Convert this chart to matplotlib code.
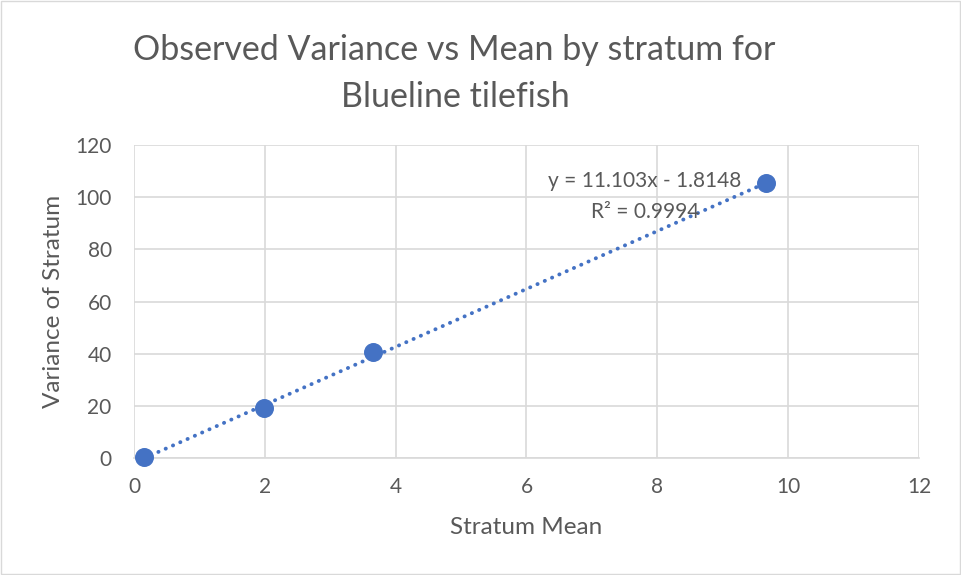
import matplotlib.pyplot as plt
import numpy as np

plt.rcParams['font.family'] = ['Lato', 'DejaVu Sans']

# stratum mean vs observed variance
stratum_mean = [0.15, 1.99, 3.66, 9.66]
stratum_var = [0.3, 19.3, 40.5, 105.3]
slope = 11.103
intercept = -1.8148
r2 = 0.9994

grey = '#595959'
blue = '#4472C4'

fig = plt.figure(figsize=(9.61, 5.75), dpi=100)
ax = fig.add_axes([0.1394, 0.2035, 0.8169, 0.5443])

# trendline over the data range
xs = np.array([min(stratum_mean), max(stratum_mean)])
ax.plot(xs, slope * xs + intercept, color=blue, lw=2.8, ls=(0, (0.05, 2.0)),
        dash_capstyle='round', zorder=2)
ax.scatter(stratum_mean, stratum_var, s=160, color=blue, zorder=3, clip_on=False)

ax.set_xlim(0, 12)
ax.set_ylim(0, 120)
ax.set_xticks(np.arange(0, 13, 2))
ax.set_yticks(np.arange(0, 121, 20))
ax.grid(True, color='#d9d9d9', lw=1.2)
ax.set_axisbelow(True)
for s in ['top', 'right', 'left']:
    ax.spines[s].set_visible(False)
ax.spines['bottom'].set_color('#d9d9d9')
ax.spines['bottom'].set_linewidth(1.2)
ax.tick_params(length=0, labelsize=15, colors=grey)
ax.tick_params(axis='y', pad=16)
ax.tick_params(axis='x', pad=14)

ax.set_xlabel('Stratum Mean', fontsize=17.5, color=grey, labelpad=14)
ax.set_ylabel('Variance of Stratum', fontsize=17.5, color=grey, labelpad=8)

fig.text(0.473, 0.913, 'Observed Variance vs Mean by stratum for',
         ha='center', va='center', fontsize=24.5, color=grey)
fig.text(0.474, 0.831, 'Blueline tilefish',
         ha='center', va='center', fontsize=24.5, color=grey)

ax.text(7.81, 106.1, 'y = 11.103x - 1.8148', ha='center', va='center',
        fontsize=15, color=grey)
ax.text(7.81, 94.3, 'R² = 0.9994', ha='center', va='center',
        fontsize=15, color=grey)

# light border round the chart area
fig.patches.append(plt.Rectangle((0.001, 0.001), 0.998, 0.998, transform=fig.transFigure,
                                 fill=False, edgecolor='#d9d9d9', lw=1))

fig.savefig('out.png', dpi=100)
